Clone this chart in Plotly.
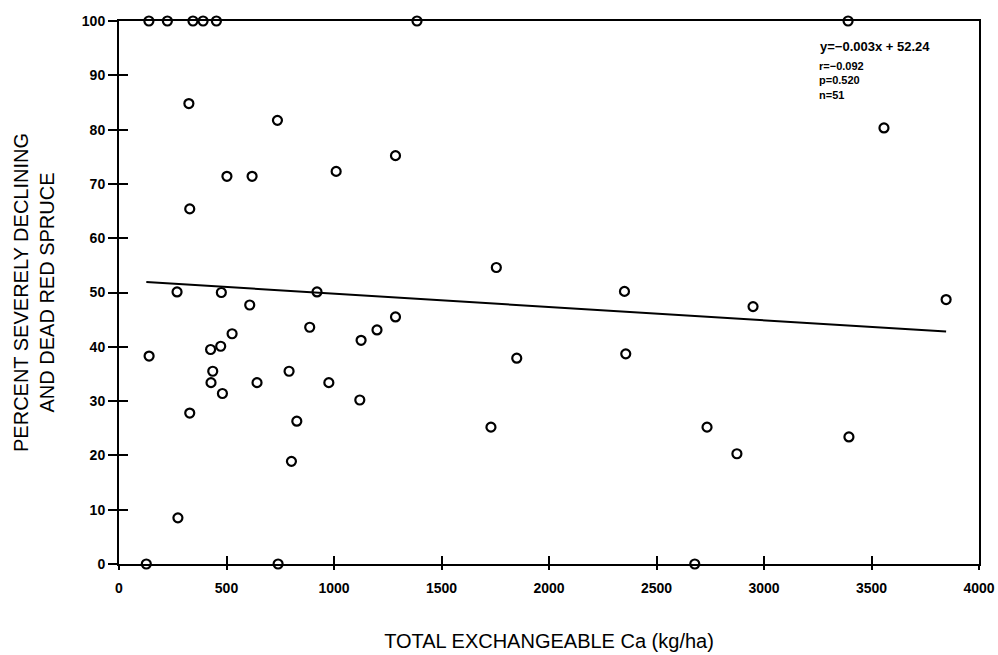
import plotly.graph_objects as go

# Data
ca_kg_ha = [139, 225, 344, 391, 453, 1386, 3391, 325, 737, 3558,
            1286, 1010, 502, 619, 329, 1755, 270, 476, 921, 2351,
            3847, 608, 2949, 1286, 887, 1200, 526, 1126, 473, 426,
            2357, 140, 1850, 436, 791, 428, 642, 976, 481, 1120,
            329, 827, 1730, 2735, 3395, 2874, 802, 274, 127, 740, 2678]
pct_declining = [100, 100, 100, 100, 100, 100, 100, 84.8, 81.7, 80.3,
                 75.2, 72.3, 71.4, 71.4, 65.4, 54.6, 50.1, 50.0, 50.1, 50.2,
                 48.7, 47.7, 47.4, 45.5, 43.6, 43.1, 42.4, 41.2, 40.1, 39.5,
                 38.7, 38.3, 37.9, 35.5, 35.5, 33.4, 33.4, 33.4, 31.4, 30.2,
                 27.8, 26.3, 25.2, 25.2, 23.4, 20.3, 18.9, 8.5, 0, 0, 0]

# Fitted line as drawn
fit_slope = -0.00245
fit_intercept = 52.24

stats_eq = "y=\u22120.003x + 52.24"
stats_rest = ["r=\u22120.092", "p=0.520", "n=51"]

x_ticks = [0, 500, 1000, 1500, 2000, 2500, 3000, 3500, 4000]
y_ticks = [0, 10, 20, 30, 40, 50, 60, 70, 80, 90, 100]

fx = [min(ca_kg_ha), max(ca_kg_ha)]
fy = [fit_intercept + fit_slope * v for v in fx]

fig = go.Figure()
fig.add_trace(go.Scatter(x=fx, y=fy, mode="lines",
                         line=dict(color="black", width=2),
                         showlegend=False, hoverinfo="skip"))
fig.add_trace(go.Scatter(x=ca_kg_ha, y=pct_declining, mode="markers",
                         marker=dict(symbol="circle-open", size=9, color="black",
                                     line=dict(width=2.2, color="black")),
                         cliponaxis=False, showlegend=False))
# invisible trace to create inner-tick overlay axes
fig.add_trace(go.Scatter(x=[None], y=[None], xaxis="x2", yaxis="y2",
                         showlegend=False, hoverinfo="skip"))

tickfont = dict(family="Liberation Sans, Arial, sans-serif", size=14,
                color="black", weight="bold")
titlefont = dict(family="Liberation Sans, Arial, sans-serif", size=20, color="black")

fig.update_layout(
    width=998, height=655,
    margin=dict(l=119, r=19, t=21, b=91),
    paper_bgcolor="white", plot_bgcolor="white",
    xaxis=dict(range=[0, 4000], tickvals=x_ticks, ticks="outside", ticklen=4,
               tickwidth=2, tickcolor="black", showline=True, linewidth=2,
               linecolor="black", mirror=True, showgrid=False, zeroline=False,
               tickfont=tickfont, ticklabelstandoff=6, automargin=False,
               title=dict(text="TOTAL EXCHANGEABLE Ca (kg/ha)", font=titlefont,
                          standoff=39)),
    yaxis=dict(range=[0, 100], tickvals=y_ticks, ticks="outside", ticklen=9,
               tickwidth=2, tickcolor="black", showline=True, linewidth=2,
               linecolor="black", mirror=True, showgrid=False, zeroline=False,
               tickfont=tickfont, automargin=False,
               title=dict(text="PERCENT SEVERELY DECLINING<br>AND DEAD RED SPRUCE",
                          font=titlefont, standoff=22)),
    xaxis2=dict(range=[0, 4000], tickvals=x_ticks, ticks="inside", ticklen=8,
                tickwidth=2, tickcolor="black", showline=False, showgrid=False,
                zeroline=False, showticklabels=False, overlaying="x",
                anchor="y2", side="bottom", automargin=False),
    yaxis2=dict(range=[0, 100], tickvals=y_ticks, ticks="inside", ticklen=9,
                tickwidth=2, tickcolor="black", showline=False, showgrid=False,
                zeroline=False, showticklabels=False, overlaying="y",
                anchor="x2", side="left", automargin=False),
)

fig.add_annotation(x=3250, y=95.3, xref="x", yref="y", text=stats_eq,
                   showarrow=False, xanchor="left", yanchor="middle",
                   font=dict(family="Liberation Sans, Arial, sans-serif", size=13,
                             color="black", weight="bold"))
fig.add_annotation(x=3250, y=93.0, xref="x", yref="y", text="<br>".join(stats_rest),
                   showarrow=False, xanchor="left", yanchor="top", align="left",
                   borderpad=0,
                   font=dict(family="Liberation Sans, Arial, sans-serif", size=11,
                             color="black", weight="bold"))

fig.write_html("out.html")
